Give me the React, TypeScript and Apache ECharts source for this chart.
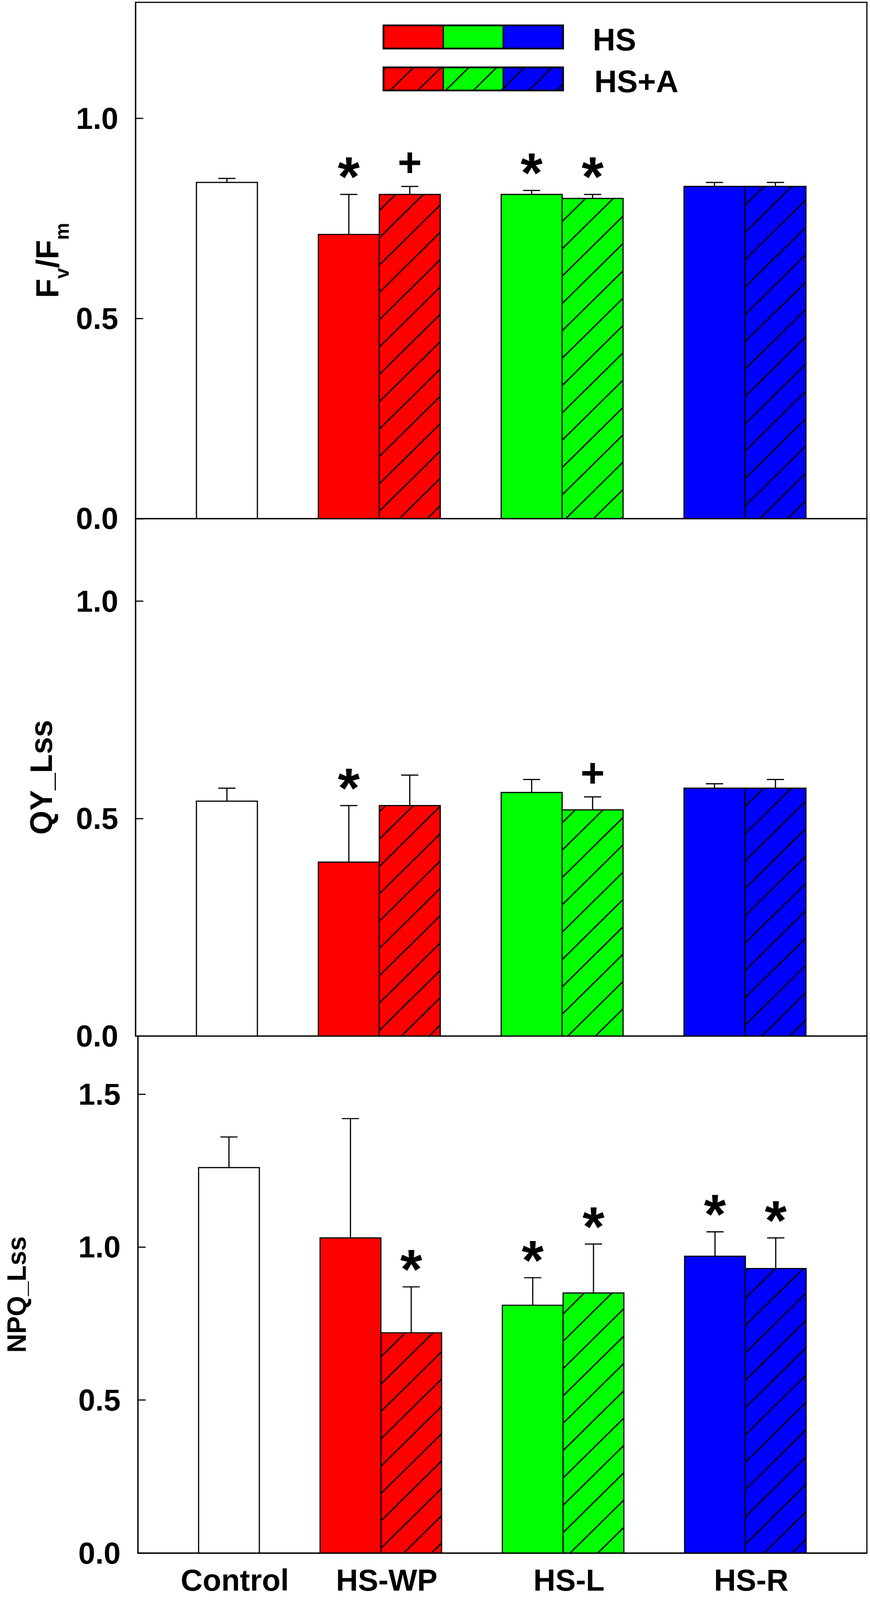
import React, { useEffect, useRef } from 'react';
import * as echarts from 'echarts';

const FONT = '"Liberation Sans", Arial, Helvetica, sans-serif';

// ---------- data ----------
const categories = ['Control', 'HS-WP', 'HS-L', 'HS-R'];
const legendLabels = ['HS', 'HS+A'];
const groupColors = ['#ff0000', '#00ff00', '#0000ff'];

// Fv/Fm
const fvfmControl = [0.84];
const fvfmControlErr = [0.01];
const fvfmHS = [0.71, 0.81, 0.83];
const fvfmHSErr = [0.10, 0.01, 0.01];
const fvfmHSA = [0.81, 0.80, 0.83];
const fvfmHSAErr = [0.02, 0.01, 0.01];
const fvfmMarkHS = ['*', '*', ''];
const fvfmMarkHSA = ['+', '*', ''];
const fvfmTicks = [0, 0.5, 1.0];

// QY_Lss
const qyControl = [0.54];
const qyControlErr = [0.03];
const qyHS = [0.40, 0.56, 0.57];
const qyHSErr = [0.13, 0.03, 0.01];
const qyHSA = [0.53, 0.52, 0.57];
const qyHSAErr = [0.07, 0.03, 0.02];
const qyMarkHS = ['*', '', ''];
const qyMarkHSA = ['', '+', ''];
const qyTicks = [0, 0.5, 1.0];

// NPQ_Lss
const npqControl = [1.26];
const npqControlErr = [0.10];
const npqHS = [1.03, 0.81, 0.97];
const npqHSErr = [0.39, 0.09, 0.08];
const npqHSA = [0.72, 0.85, 0.93];
const npqHSAErr = [0.15, 0.16, 0.10];
const npqMarkHS = ['', '*', '*'];
const npqMarkHSA = ['*', '*', '*'];
const npqTicks = [0, 0.5, 1.0, 1.5];

const yMaxes = [1.29, 1.19, 1.69];

// ---------- layout (in reference pixels) ----------
const W = 2228;
const H = 4156;
const GRID_LEFT = 347;
const GRID_RIGHT = 8;
const GRID_TOPS = [6, 1347, 2691];
const GRID_BOTTOMS = [1347, 2691, 4034];
const X_MAX = 12;
const HATCH_STEP = 71;
const HATCH_PHASE = 27;

const controlSlot = 1;
const hsSlot = (i: number) => 3 + 3 * i;
const hsaSlot = (i: number) => 4 + 3 * i;
const catCenters = [controlSlot + 0.5, ...[0, 1, 2].map((i) => hsSlot(i) + 1)];

function hatch(L: number, T: number, R: number, B: number, lw = 3.5): any[] {
  const out: any[] = [];
  const start = Math.ceil((L + T - HATCH_PHASE) / HATCH_STEP) * HATCH_STEP + HATCH_PHASE;
  for (let c = start; c <= R + B; c += HATCH_STEP) {
    const xa = Math.max(L, c - B);
    const xb = Math.min(R, c - T);
    if (xb - xa > 0.5) {
      out.push({
        type: 'line',
        shape: { x1: xa, y1: c - xa, x2: xb, y2: c - xb },
        style: { stroke: '#000', lineWidth: lw },
      });
    }
  }
  return out;
}

type Kind = 'control' | 'hs' | 'hsa';

function barSeries(panel: number, kind: Kind, means: number[], errs: number[], marks: string[]) {
  const slot = (i: number) => (kind === 'control' ? controlSlot : kind === 'hs' ? hsSlot(i) : hsaSlot(i));
  return {
    type: 'custom',
    name: kind === 'control' ? 'Control' : kind === 'hs' ? 'HS' : 'HS+A',
    xAxisIndex: panel,
    yAxisIndex: panel,
    encode: { x: 0, y: 1 },
    z: 3,
    data: means.map((m, i) => [slot(i), m, errs[i], i]),
    renderItem: (params: any, api: any) => {
      const x0 = api.value(0);
      const v = api.value(1);
      const e = api.value(2);
      const g = api.value(3);
      const bl = api.coord([x0, 0]);
      const tr = api.coord([x0 + 1, v]);
      const L = bl[0];
      const B = bl[1];
      const R = tr[0];
      const T = tr[1];
      const fill = kind === 'control' ? '#ffffff' : groupColors[g];
      const children: any[] = [
        { type: 'rect', shape: { x: L, y: T, width: R - L, height: B - T }, style: { fill, stroke: 'none' } },
      ];
      if (kind === 'hsa') children.push(...hatch(L, T, R, B));
      children.push({
        type: 'rect',
        shape: { x: L, y: T, width: R - L, height: B - T },
        style: { fill: 'none', stroke: '#000', lineWidth: 3 },
      });
      const cx = (L + R) / 2;
      const et = api.coord([x0 + 0.5, v + e])[1];
      children.push({ type: 'line', shape: { x1: cx, y1: T, x2: cx, y2: et }, style: { stroke: '#000', lineWidth: 3 } });
      children.push({ type: 'line', shape: { x1: cx - 22, y1: et, x2: cx + 22, y2: et }, style: { stroke: '#000', lineWidth: 3 } });
      const mk = marks[params.dataIndex];
      if (mk) {
        const star = mk === '*';
        children.push({
          type: 'text',
          x: cx,
          y: et - (star ? 46 : 63),
          style: {
            text: mk,
            fontSize: star ? 145 : 106,
            fontWeight: 'bold',
            fontFamily: FONT,
            fill: '#000',
            align: 'center',
            verticalAlign: 'middle',
          },
        });
      }
      return { type: 'group', children };
    },
  };
}

const panelData = [
  { c: fvfmControl, ce: fvfmControlErr, hs: fvfmHS, hse: fvfmHSErr, hsa: fvfmHSA, hsae: fvfmHSAErr, mh: fvfmMarkHS, ma: fvfmMarkHSA, ticks: fvfmTicks },
  { c: qyControl, ce: qyControlErr, hs: qyHS, hse: qyHSErr, hsa: qyHSA, hsae: qyHSAErr, mh: qyMarkHS, ma: qyMarkHSA, ticks: qyTicks },
  { c: npqControl, ce: npqControlErr, hs: npqHS, hse: npqHSErr, hsa: npqHSA, hsae: npqHSAErr, mh: npqMarkHS, ma: npqMarkHSA, ticks: npqTicks },
];

const yNames = [
  {
    name: '{m|F}{s|v}{m|/F}{s|m}',
    gap: 182,
    style: {
      rich: {
        m: { fontSize: 82, fontWeight: 'bold', fontFamily: FONT, color: '#000', lineHeight: 82, verticalAlign: 'top' },
        s: { fontSize: 50, fontWeight: 'bold', fontFamily: FONT, color: '#000', lineHeight: 50, verticalAlign: 'top', padding: [53, 0, 0, 0] },
      },
    },
  },
  { name: 'QY_Lss', gap: 202, style: { fontSize: 80, fontWeight: 'bold', fontFamily: FONT, color: '#000', lineHeight: 80 } },
  { name: 'NPQ_Lss', gap: 277, style: { fontSize: 68, fontWeight: 'bold', fontFamily: FONT, color: '#000', lineHeight: 68 } },
];

function buildOption() {
  const grid = [0, 1, 2].map((i) => ({
    left: GRID_LEFT,
    right: GRID_RIGHT,
    top: GRID_TOPS[i],
    height: GRID_BOTTOMS[i] - GRID_TOPS[i],
    show: true,
    borderColor: '#000',
    borderWidth: 3,
    backgroundColor: 'transparent',
    containLabel: false,
  }));

  const xAxis = [0, 1, 2].map((i) => ({
    type: 'value',
    gridIndex: i,
    min: 0,
    max: X_MAX,
    axisLine: { show: true, onZero: false, lineStyle: { color: '#000', width: 3 } },
    axisTick: { show: false },
    splitLine: { show: false },
    axisLabel:
      i === 2
        ? {
            show: true,
            customValues: catCenters,
            formatter: (v: number) => {
              const k = catCenters.findIndex((c) => Math.abs(c - v) < 1e-6);
              return k >= 0 ? categories[k] : '';
            },
            fontSize: 78,
            fontWeight: 'bold',
            fontFamily: FONT,
            color: '#000',
            margin: 30,
            lineHeight: 80,
            padding: [0, 0, 0, 30],
          }
        : { show: false },
  }));

  const yAxis = [0, 1, 2].map((i) => {
    const ticks = panelData[i].ticks;
    return {
      type: 'value',
      gridIndex: i,
      min: 0,
      max: yMaxes[i],
      interval: 0.5,
      axisLine: { show: true, lineStyle: { color: '#000', width: 3 } },
      axisTick: { show: true, inside: true, length: 20, lineStyle: { color: '#000', width: 3 }, customValues: ticks },
      splitLine: { show: false },
      axisLabel: {
        show: true,
        customValues: ticks,
        formatter: (v: number) => (Math.abs(v / 0.5 - Math.round(v / 0.5)) < 1e-6 ? v.toFixed(1) : ''),
        fontSize: 78,
        fontWeight: 'bold',
        fontFamily: FONT,
        color: '#000',
        margin: 44,
      },
      name: yNames[i].name,
      nameLocation: 'middle',
      nameRotate: 90,
      nameGap: yNames[i].gap,
      nameTextStyle: yNames[i].style,
    };
  });

  const series: any[] = [];
  panelData.forEach((p, i) => {
    series.push(barSeries(i, 'control', p.c, p.ce, ['']));
    series.push(barSeries(i, 'hs', p.hs, p.hse, p.mh));
    series.push(barSeries(i, 'hsa', p.hsa, p.hsae, p.ma));
  });

  // legend drawn as graphic
  const LEG_X = 982;
  const LEG_W = 460;
  const LEG_H = 60;
  const LEG_Y = [66, 175];
  const TEXT_X = [1518, 1522];
  const TEXT_DY = 7;
  const legendEls: any[] = [];
  LEG_Y.forEach((y, r) => {
    const segW = LEG_W / 3;
    for (let k = 0; k < 3; k++) {
      const x = LEG_X + k * segW;
      legendEls.push({ type: 'rect', shape: { x, y, width: segW, height: LEG_H }, style: { fill: groupColors[k], stroke: 'none' } });
      if (r === 1) legendEls.push(...hatch(x, y, x + segW, y + LEG_H, 3.5));
      legendEls.push({ type: 'rect', shape: { x, y, width: segW, height: LEG_H }, style: { fill: 'none', stroke: '#000', lineWidth: 3 } });
    }
    legendEls.push({ type: 'rect', shape: { x: LEG_X, y, width: LEG_W, height: LEG_H }, style: { fill: 'none', stroke: '#000', lineWidth: 4.5 } });
    legendEls.push({
      type: 'text',
      x: TEXT_X[r],
      y: y + LEG_H / 2 + TEXT_DY,
      style: {
        text: legendLabels[r],
        fontSize: 80,
        fontWeight: 'bold',
        fontFamily: FONT,
        fill: '#000',
        align: 'left',
        verticalAlign: 'middle',
      },
    });
  });

  return {
    animation: false,
    backgroundColor: '#ffffff',
    grid,
    xAxis,
    yAxis,
    series,
    graphic: [{ type: 'group', z: 100, children: legendEls }],
  };
}

export default function App() {
  const ref = useRef<HTMLDivElement>(null);
  // the visible viewport can be a little shorter than the nominal window: fit the figure to it
  const vw = (typeof document !== 'undefined' && document.documentElement.clientWidth) || W;
  const vh = (typeof document !== 'undefined' && document.documentElement.clientHeight) || H;
  const sx = Math.min(1, vw / W);
  const sy = Math.min(1, vh / H);
  useEffect(() => {
    if (!ref.current) return;
    const chart = echarts.init(ref.current, null, { renderer: 'svg', width: W, height: H });
    chart.setOption(buildOption() as any);
    return () => chart.dispose();
  }, []);
  return (
    <div
      ref={ref}
      style={{
        position: 'fixed',
        left: 0,
        top: 0,
        width: W,
        height: H,
        background: '#ffffff',
        transform: `scale(${sx}, ${sy})`,
        transformOrigin: '0 0',
      }}
    />
  );
}
